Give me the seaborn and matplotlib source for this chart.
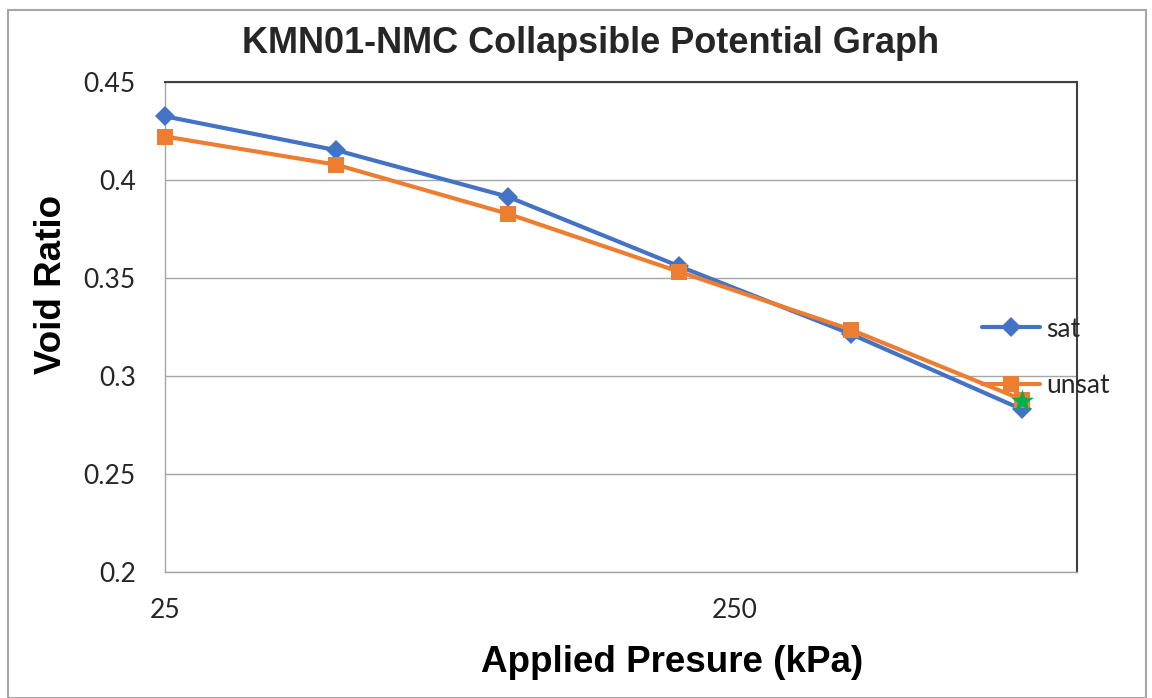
import matplotlib
matplotlib.use("Agg")
import matplotlib.pyplot as plt
import seaborn as sns
import pandas as pd
from matplotlib.patches import Rectangle
from matplotlib.ticker import FixedLocator, NullLocator, FixedFormatter

pressure = [25, 50, 100, 200, 400, 800]
sat = [0.4325, 0.4152, 0.3915, 0.3560, 0.3215, 0.2830]
unsat = [0.4222, 0.4078, 0.3828, 0.3532, 0.3237, 0.2880]
extra_x = [800]
extra_y = [0.2875]
x_ticks = [25, 250]
x_tick_labels = ["25", "250"]
y_ticks = [0.2, 0.25, 0.3, 0.35, 0.4, 0.45]
y_tick_labels = ["0.2", "0.25", "0.3", "0.35", "0.4", "0.45"]

df = pd.DataFrame({
    "pressure": pressure * 2,
    "e": sat + unsat,
    "series": ["sat"] * len(sat) + ["unsat"] * len(unsat),
})

sns.set_theme(style="white")
plt.rcParams["font.family"] = ["Lato", "DejaVu Sans"]

fig = plt.figure(figsize=(11.52, 6.98), dpi=100)
ax = fig.add_axes([0.1432, 0.1805, 0.935 - 0.1432, 0.8825 - 0.1805])

blue = "#4472C4"
orange = "#ED7D31"
green = "#00B050"

sns.lineplot(data=df[df.series == "sat"], x="pressure", y="e", ax=ax,
             color=blue, lw=3, marker="D", markersize=10, markeredgewidth=0,
             label="sat", legend=False, clip_on=False, zorder=3)
sns.lineplot(data=df[df.series == "unsat"], x="pressure", y="e", ax=ax,
             color=orange, lw=3, marker="s", markersize=11, markeredgewidth=0,
             label="unsat", legend=False, clip_on=False, zorder=4)
sns.scatterplot(x=extra_x, y=extra_y, ax=ax, color=green, marker="*", s=300,
                linewidth=0, zorder=5, legend=False, clip_on=False)

ax.set_xscale("log")
ax.set_xlim(25, 1000)
ax.set_ylim(0.2, 0.45)
ax.xaxis.set_major_locator(FixedLocator(x_ticks))
ax.xaxis.set_major_formatter(FixedFormatter(x_tick_labels))
ax.xaxis.set_minor_locator(NullLocator())
ax.yaxis.set_major_locator(FixedLocator(y_ticks))
ax.yaxis.set_major_formatter(FixedFormatter(y_tick_labels))

ax.grid(axis="y", color="#A6A6A6", lw=1)
ax.grid(axis="x", visible=False)
ax.set_axisbelow(True)

for side in ["left", "bottom"]:
    ax.spines[side].set_color("#A6A6A6")
    ax.spines[side].set_linewidth(1)
for side in ["top", "right"]:
    ax.spines[side].set_color("#404040")
    ax.spines[side].set_linewidth(1.5)

ax.tick_params(axis="both", which="major", direction="out", length=7,
               width=1, color="#A6A6A6", labelsize=19, labelcolor="#262626")
ax.tick_params(axis="x", pad=12)
ax.tick_params(axis="y", pad=14)

label_font = ["Liberation Sans", "DejaVu Sans"]
ax.set_xlabel("Applied Presure (kPa)", fontsize=26.5, fontweight="bold",
              family=label_font, color="black", va="center")
ax.xaxis.set_label_coords(0.556, -0.184)
ax.set_ylabel("Void Ratio", fontsize=26.5, fontweight="bold",
              family=label_font, color="black", va="center")
ax.yaxis.set_label_coords(-0.124, 0.586)
fig.suptitle("KMN01-NMC Collapsible Potential Graph", fontsize=26, fontweight="bold",
             family=label_font, y=0.938, x=0.513, va="center")

handles, labels = ax.get_legend_handles_labels()
leg = fig.legend(handles, labels, loc="center left", bbox_to_anchor=(0.852, 0.488),
                 frameon=False, fontsize=19, handlelength=2.2, labelspacing=1.2,
                 handletextpad=0.25, borderaxespad=0, borderpad=0)

fig.patches.append(Rectangle((0.007, 0.0), 0.988, 0.985, transform=fig.transFigure,
                             fill=False, edgecolor="#A6A6A6", lw=1.5))

fig.savefig("out.png", dpi=100)
